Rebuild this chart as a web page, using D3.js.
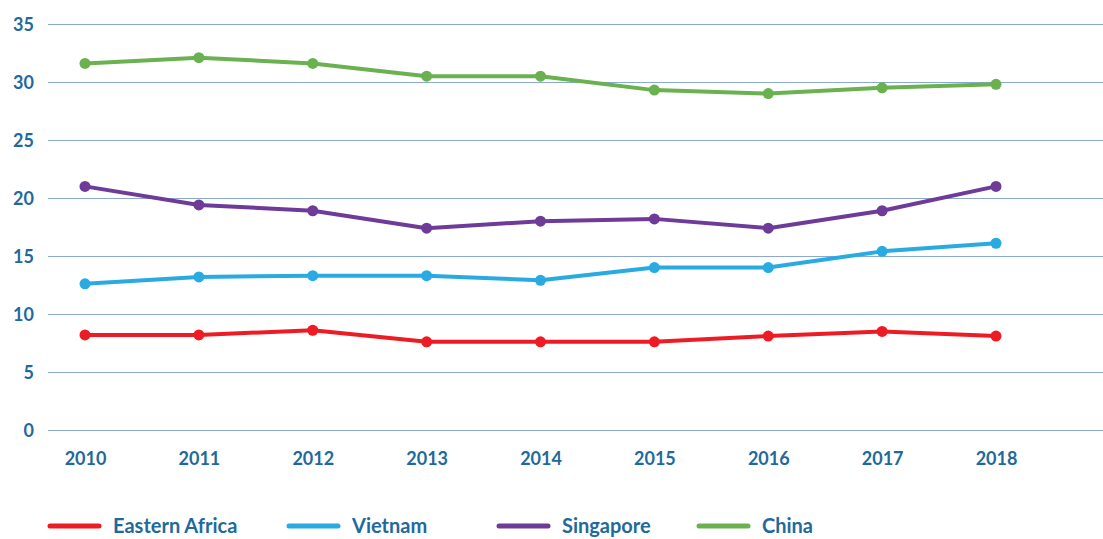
<!DOCTYPE html>
<html>
<head>
<meta charset="utf-8">
<script src="https://cdn.jsdelivr.net/npm/d3@7"></script>
<style>
  html, body { margin: 0; padding: 0; background: #fff; }
  svg text { font-family: Lato, "Open Sans", sans-serif; font-weight: bold; fill: #1f6a9b; }
</style>
</head>
<body>
<svg id="chart" width="1103" height="539"></svg>
<script>
// --- data ---
const years = [2010, 2011, 2012, 2013, 2014, 2015, 2016, 2017, 2018];
const eastAfrica = [8.2, 8.2, 8.6, 7.6, 7.6, 7.6, 8.1, 8.5, 8.1];
const vietnam = [12.6, 13.2, 13.3, 13.3, 12.9, 14.0, 14.0, 15.4, 16.1];
const singapore = [21.0, 19.4, 18.9, 17.4, 18.0, 18.2, 17.4, 18.9, 21.0];
const china = [31.6, 32.1, 31.6, 30.5, 30.5, 29.3, 29.0, 29.5, 29.8];
const yTicks = [0, 5, 10, 15, 20, 25, 30, 35];

const series = [
  { name: "Eastern Africa", values: eastAfrica, color: "#ed1c24" },
  { name: "Vietnam", values: vietnam, color: "#29abe2" },
  { name: "Singapore", values: singapore, color: "#6e3b98" },
  { name: "China", values: china, color: "#6ab150" }
];

const svg = d3.select("#chart");

const x = d3.scalePoint().domain(years).range([85, 996]);
const y = d3.scaleLinear().domain([0, 35]).range([430, 24]);

// gridlines
svg.append("g").selectAll("line")
  .data(yTicks)
  .join("line")
  .attr("x1", 48).attr("x2", 1103)
  .attr("y1", d => y(d) + 0.5).attr("y2", d => y(d) + 0.5)
  .attr("stroke", "#8aa8d0").attr("stroke-width", 1);

// y axis labels
const yAxis = svg.append("g")
  .attr("transform", "translate(34,0)")
  .call(d3.axisLeft(y).tickValues(yTicks).tickSize(0).tickPadding(0));
yAxis.select(".domain").remove();
yAxis.selectAll("text").style("font-size", "18px").attr("dy", "0.35em");

// x axis labels
const xAxis = svg.append("g")
  .attr("transform", "translate(0,452)")
  .call(d3.axisBottom(x).tickSize(0).tickPadding(0).tickFormat(d3.format("d")));
xAxis.select(".domain").remove();
xAxis.selectAll("text").style("font-size", "18px");

// lines + markers
const line = d3.line().x((d, i) => x(years[i])).y(d => y(d));

series.forEach(s => {
  svg.append("path")
    .datum(s.values)
    .attr("d", line)
    .attr("fill", "none")
    .attr("stroke", s.color)
    .attr("stroke-width", 4)
    .attr("stroke-linejoin", "round");
  svg.append("g").selectAll("circle")
    .data(s.values)
    .join("circle")
    .attr("cx", (d, i) => x(years[i]))
    .attr("cy", d => y(d))
    .attr("r", 5.5)
    .attr("fill", s.color);
});

// legend
const legendX = [48, 287, 497, 697];
const legend = svg.append("g").selectAll("g")
  .data(series)
  .join("g")
  .attr("transform", (d, i) => `translate(${legendX[i]},526)`);
legend.append("line")
  .attr("x1", 2).attr("x2", 51)
  .attr("stroke", d => d.color)
  .attr("stroke-width", 5)
  .attr("stroke-linecap", "round");
legend.append("text")
  .attr("x", 65).attr("dy", "0.35em")
  .style("font-size", "20px")
  .text(d => d.name);
</script>
</body>
</html>
